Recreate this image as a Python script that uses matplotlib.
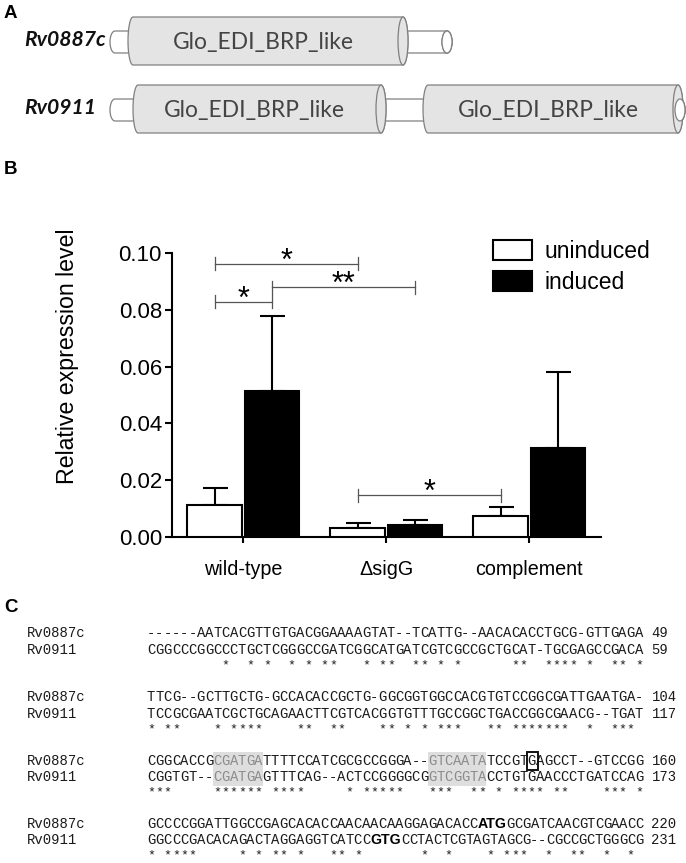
import matplotlib
matplotlib.use('Agg')
import matplotlib.pyplot as plt
import numpy as np
from matplotlib.patches import Rectangle, Ellipse, Polygon, Patch

W, H, DPI = 686, 863, 100
plt.rcParams['font.family'] = ['Liberation Sans', 'DejaVu Sans']

# ---------------- Panel A data (diagram scale) ----------------
genes = ['Rv0887c', 'Rv0911']
gene_start = [110, 110]
gene_end = [452, 685]
domain_start = [[128], [133, 423]]
domain_end = [[408], [386, 683]]
domain_name = 'Glo_EDI_BRP_like'

# ---------------- Panel B data ----------------
groups = ['wild-type', '\u0394sigG', 'complement']
series = ['uninduced', 'induced']
uninduced = [0.0112, 0.0030, 0.0073]
uninduced_err = [0.0059, 0.0017, 0.0032]
induced = [0.0515, 0.0041, 0.0314]
induced_err = [0.0265, 0.0018, 0.0268]
yticks = [0.00, 0.02, 0.04, 0.06, 0.08, 0.10]
sig_from = [-0.2, 0.2, -0.2, 0.8]
sig_to = [0.8, 1.2, 0.2, 1.8]
sig_y = [0.0962, 0.0880, 0.0828, 0.0147]
sig_text = ['*', '**', '*', '*']

# ---------------- Panel C data ----------------
seq_names = ['Rv0887c', 'Rv0911']
rv0887c_rows = [
    "------AATCACGTTGTGACGGAAAAGTAT--TCATTG--AACACACCTGCG-GTTGAGA",
    "TTCG--GCTTGCTG-GCCACACCGCTG-GGCGGTGGCCACGTGTCCGGCGATTGAATGA-",
    "CGGCACCGCGATGATTTTCCATCGCGCCGGGA--GTCAATATCCGTGAGCCT--GTCCGG",
    "GCCCCGGATTGGCCGAGCACACCAACAACAAGGAGACACCATGGCGATCAACGTCGAACC",
]
rv0911_rows = [
    "CGGCCCGGCCCTGCTCGGGCCGATCGGCATGATCGTCGCCGCTGCAT-TGCGAGCCGACA",
    "TCCGCGAATCGCTGCAGAACTTCGTCACGGTGTTTGCCGGCTGACCGGCGAACG--TGAT",
    "CGGTGT--CGATGAGTTTCAG--ACTCCGGGGCGGTCGGTACCTGTGAACCCTGATCCAG",
    "GGCCCGACACAGACTAGGAGGTCATCCGTGCCTACTCGTAGTAGCG--CGCCGCTGGGCG",
]
rv0887c_ends = ['49', '104', '160', '220']
rv0911_ends = ['59', '117', '173', '231']
conserved_cols = [
    [10, 13, 15, 18, 20, 22, 23, 27, 29, 30, 33, 34, 36, 38, 45, 46, 49, 50, 51, 52, 54, 57, 58, 60],
    [1, 3, 4, 9, 11, 12, 13, 14, 19, 20, 23, 24, 29, 30, 32, 34, 36, 37, 38, 42, 43, 45, 46, 47, 48,
     49, 50, 51, 54, 57, 58, 59],
    [1, 2, 3, 9, 10, 11, 12, 13, 14, 16, 17, 18, 19, 25, 27, 28, 29, 30, 31, 35, 36, 37, 40, 41, 43,
     45, 46, 47, 48, 50, 51, 56, 57, 58, 60],
    [1, 3, 4, 5, 6, 12, 14, 16, 17, 19, 23, 24, 26, 34, 37, 42, 44, 45, 46, 49, 52, 53, 56, 59],
]
shaded_spans = [(2, 9, 14), (2, 35, 41)]      # block, first col, last col
boxed_cols = [(2, 0, 47)]                      # block, row, col
bold_spans = [(3, 0, 41, 43), (3, 1, 28, 30)]  # block, row, first col, last col

# =============================================================
fig = plt.figure(figsize=(W / DPI, H / DPI), dpi=DPI)
ov = fig.add_axes([0, 0, 1, 1], zorder=5)
ov.set_xlim(0, W)
ov.set_ylim(H, 0)
ov.axis('off')
ov.patch.set_alpha(0)
renderer = fig.canvas.get_renderer()


def fit_width(t, target):
    w = t.get_window_extent(renderer).width
    t.set_fontsize(t.get_fontsize() * target / w)


# panel letters
for lbl, yy in [('A', 14), ('B', 170), ('C', 607)]:
    ov.text(4, yy, lbl, fontsize=13.5, fontweight='bold', ha='left', va='center')

# ---------------- Panel A ----------------
EDGE = '#808080'


def cylinder(x0, x1, yc, h, rx, fc, z):
    t1 = np.linspace(-np.pi / 2, np.pi / 2, 40)
    right = np.c_[x1 - rx + rx * np.cos(t1), yc + h / 2 * np.sin(t1)]
    t2 = np.linspace(np.pi / 2, 3 * np.pi / 2, 40)
    left = np.c_[x0 + rx + rx * np.cos(t2), yc + h / 2 * np.sin(t2)]
    ov.add_patch(Polygon(np.vstack([right, left]), closed=True, facecolor=fc,
                         edgecolor=EDGE, lw=0.9, zorder=z))
    ov.add_patch(Ellipse((x1 - rx, yc), 2 * rx, h, facecolor=fc, edgecolor=EDGE,
                         lw=0.9, zorder=z + 0.5))


row_y = [41, 109]
name_texts = []
for i, g in enumerate(genes):
    yc = row_y[i]
    cylinder(gene_start[i], gene_end[i], yc + 1, 22, 5, 'white', 1)
    for s, e in zip(domain_start[i], domain_end[i]):
        cylinder(s, e, yc, 48, 5, '#e4e4e4', 2)
        t = ov.text((s + e) / 2 - 5, yc + 1, domain_name, fontsize=14, color='#444444',
                    family='Lato', ha='center', va='center', zorder=4)
        fit_width(t, 180)
    ov.add_patch(Ellipse((gene_end[i] - 5, yc + 1), 10, 22, facecolor='white',
                         edgecolor=EDGE, lw=0.9, zorder=3.5))
    nt = ov.text(24, yc - 1, g, fontsize=15, family='Lato', style='italic', fontweight='bold',
                 ha='left', va='center', color='#111111')
    name_texts.append(nt)
fit_width(name_texts[0], 82)
name_texts[1].set_fontsize(name_texts[0].get_fontsize())

# ---------------- Panel B ----------------
axb = fig.add_axes([171.7 / W, (H - 536.7) / H, 429 / W, 283.5 / H])
x = np.arange(len(groups))
bw = 0.38
axb.bar(x - 0.2, uninduced, bw, color='white', edgecolor='black', linewidth=1.5, zorder=3,
        label=series[0])
axb.bar(x + 0.2, induced, bw, color='black', edgecolor='black', linewidth=1.5, zorder=3,
        label=series[1])
zeros = np.zeros(len(groups))
axb.errorbar(x - 0.2, uninduced, yerr=[zeros, uninduced_err], fmt='none', ecolor='black',
             elinewidth=1.5, capsize=9, capthick=1.5, zorder=2)
axb.errorbar(x + 0.2, induced, yerr=[zeros, induced_err], fmt='none', ecolor='black',
             elinewidth=1.5, capsize=9, capthick=1.5, zorder=2)
axb.set_xlim(-0.5, 2.5)
axb.set_ylim(0, 0.10)
for sp in ['top', 'right']:
    axb.spines[sp].set_visible(False)
for sp in ['left', 'bottom']:
    axb.spines[sp].set_linewidth(1.5)
axb.set_yticks(yticks)
axb.set_yticklabels(['%.2f' % v for v in yticks])
axb.set_xticks(x)
axb.set_xticklabels(groups)
axb.tick_params(axis='y', length=5, width=1.5, labelsize=16, pad=2)
axb.tick_params(axis='x', length=4.5, width=1.5, labelsize=14.2, pad=12)
axb.set_ylabel('Relative expression level', fontsize=16.7)
axb.yaxis.set_label_coords(-0.215, 0.637)

tk = 6.5 / 2835
for x1, x2, yy, s in zip(sig_from, sig_to, sig_y, sig_text):
    axb.plot([x1, x1, np.nan, x1, x2, np.nan, x2, x2],
             [yy - tk, yy + tk, np.nan, yy, yy, np.nan, yy - tk, yy + tk],
             color='#555555', lw=0.9, clip_on=False, zorder=4)
    axb.annotate(s, ((x1 + x2) / 2, yy), xytext=(0, -4), textcoords='offset points',
                 ha='center', va='baseline', fontsize=22, annotation_clip=False)

handles = [Patch(facecolor='white', edgecolor='black', linewidth=1.5),
           Patch(facecolor='black', edgecolor='black', linewidth=1.5)]
axb.legend(handles, series, loc='upper left', bbox_to_anchor=(493 / W, 1 - 240 / H),
           bbox_transform=fig.transFigure, frameon=False, borderaxespad=0, borderpad=0,
           handlelength=1.7, handleheight=0.92, handletextpad=0.55, labelspacing=0.35,
           fontsize=16.5)

# ---------------- Panel C ----------------
MONO = 'Liberation Mono'
cw = 8.27
xc0 = 147
block_y = [633, 697, 760.5, 823.5]
row_off = [0, 16.5]
FS = 10
cap = 4.2
TXT = '#1a1a1a'


def col_x(c):
    return xc0 + (c - 0.5) * cw


for b in range(4):
    by = block_y[b]
    rows = [rv0887c_rows[b], rv0911_rows[b]]
    ends = [rv0887c_ends[b], rv0911_ends[b]]
    for (bb, c0, c1) in shaded_spans:
        if bb == b:
            ov.add_patch(Rectangle((xc0 + (c0 - 1) * cw, by - 8.5), (c1 - c0 + 1) * cw, 34,
                                   facecolor='#dedede', edgecolor='none', zorder=1))
    for r in range(2):
        yb = by + row_off[r] + cap
        ov.text(27, yb, seq_names[r], family=MONO, fontsize=FS, ha='left', va='baseline',
                color=TXT, zorder=3)
        row = rows[r]
        ncol = len(row)
        xs = [col_x(c) for c in range(1, ncol + 1)]
        bold_here = [(c0, c1) for (bb, rr, c0, c1) in bold_spans if bb == b and rr == r]
        for c0, c1 in bold_here:
            left = xc0 + (c0 - 1) * cw
            bt = ov.text(left, yb, row[c0 - 1:c1], family='Liberation Sans', fontweight='bold',
                         fontsize=10.2, ha='left', va='baseline', color='black', zorder=3)
            wb = bt.get_window_extent(renderer).width
            start = left + wb
            right = xc0 + ncol * cw
            sp = (right - start) / (ncol - c1)
            for c in range(c1 + 1, ncol + 1):
                xs[c - 1] = start + (c - c1 - 0.5) * sp
        for ci, ch in enumerate(row):
            c = ci + 1
            if any(c0 <= c <= c1 for c0, c1 in bold_here):
                continue
            shaded = any(bb == b and c0 <= c <= c1 for (bb, c0, c1) in shaded_spans)
            ov.text(xs[ci], yb, ch, family=MONO, fontsize=FS, ha='center', va='baseline',
                    color='#8c8c8c' if shaded else TXT, zorder=3)
        ov.text(xc0 + 61 * cw, yb, ends[r], family=MONO, fontsize=FS, ha='left',
                va='baseline', color=TXT, zorder=3)
        for (bb, rr, c) in boxed_cols:
            if bb == b and rr == r:
                ov.add_patch(Rectangle((col_x(c) - 4.5, by + row_off[r] - 9), 10.5, 18,
                                       facecolor='none', edgecolor='#111111', lw=1.4, zorder=4))
    for c in conserved_cols[b]:
        ov.text(col_x(c), by + 35.3, '*', family=MONO, fontsize=9.5, ha='center',
                va='baseline', color=TXT, zorder=3)

fig.savefig('out.png', dpi=DPI)
